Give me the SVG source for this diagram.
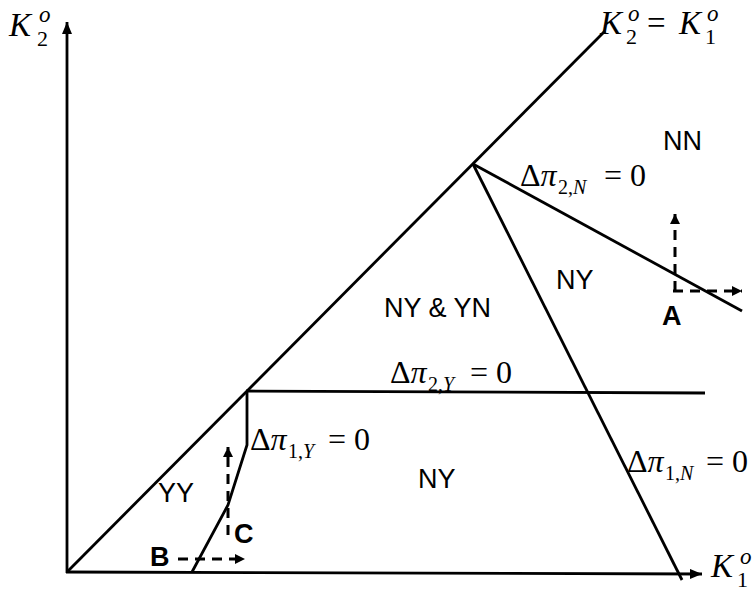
<svg xmlns="http://www.w3.org/2000/svg" width="756" height="592" viewBox="0 0 756 592">
<defs>
<style>
.ln{fill:none;stroke:#000;stroke-width:2.8;stroke-linecap:butt}
.ds{fill:none;stroke:#000;stroke-width:3;stroke-dasharray:10,7}
.lb{font-family:"Liberation Sans",Arial,sans-serif;font-size:27px;fill:#000}
.bd{font-family:"Liberation Sans",Arial,sans-serif;font-size:27px;font-weight:bold;fill:#000}
.m{font-family:"Liberation Serif","Times New Roman",serif;font-size:32px;fill:#000}
.k{font-family:"Liberation Serif","Times New Roman",serif;font-size:33px;font-style:italic;fill:#000}
.i{font-style:italic}
.s{font-size:20px}
.ks{font-size:22px;font-style:normal}
.ko{font-size:23px;font-style:italic}
</style>
<marker id="ah" viewBox="0 0 10 10" refX="10" refY="5" markerWidth="10" markerHeight="10" markerUnits="userSpaceOnUse" orient="auto">
<path d="M0,0 L10,5 L0,10 Z" fill="#000"/>
</marker>
<marker id="ax" viewBox="0 0 12 10" refX="12" refY="5" markerWidth="12" markerHeight="10" markerUnits="userSpaceOnUse" orient="auto">
<path d="M0,0 L12,5 L0,10 Z" fill="#000"/>
</marker>
</defs>

<g id="connectors">
<line id="y-axis" class="ln" x1="67" y1="573" x2="67" y2="22" marker-end="url(#ax)"/>
<line id="x-axis" class="ln" x1="66" y1="572" x2="702" y2="574" marker-end="url(#ax)"/>
<line id="diag" class="ln" x1="67" y1="572" x2="605" y2="31"/>
<line id="d2N" class="ln" x1="473" y1="164" x2="742" y2="311"/>
<line id="d1N" class="ln" x1="473" y1="164" x2="682" y2="580"/>
<line id="d2Y" class="ln" x1="246" y1="391" x2="705" y2="393"/>
<polyline id="d1Y" class="ln" points="247,391 247,445 228,505 192,572"/>
<path id="arrowA-up" class="ds" d="M675,291 L675,214" marker-end="url(#ah)"/>
<path id="arrowA-right" class="ds" d="M673,291 L742,291" marker-end="url(#ah)"/>
<path id="arrowB" class="ds" d="M178,559 L245,559" marker-end="url(#ah)"/>
<path id="arrowC" class="ds" d="M228,535 L228,447" marker-end="url(#ah)"/>
</g>

<g id="axis-labels">
<text class="k" x="9" y="36">K<tspan class="ko" x="39" y="22">o</tspan><tspan class="ks" x="37" y="46">2</tspan></text>
<text class="k" x="600" y="34">K<tspan class="ko" x="628" y="21">o</tspan><tspan class="ks" x="626" y="44">2</tspan><tspan font-style="normal" x="647" y="34">=</tspan><tspan x="679" y="34">K</tspan><tspan class="ko" x="707" y="21">o</tspan><tspan class="ks" x="705" y="44">1</tspan></text>
<text class="k" x="711" y="577">K<tspan class="ko" x="740" y="564">o</tspan><tspan class="ks" x="737" y="587">1</tspan></text>
</g>

<g id="curve-labels">
<text class="m" x="520" y="186">Δ<tspan class="i">π</tspan><tspan class="s" x="558" y="194">2,</tspan><tspan class="s i">N</tspan><tspan x="604" y="186">= 0</tspan></text>
<text class="m" x="390" y="383">Δ<tspan class="i">π</tspan><tspan class="s" x="428" y="391">2,</tspan><tspan class="s i">Y</tspan><tspan x="470" y="383">= 0</tspan></text>
<text class="m" x="250" y="450">Δ<tspan class="i">π</tspan><tspan class="s" x="288" y="458">1,</tspan><tspan class="s i">Y</tspan><tspan x="328" y="450">= 0</tspan></text>
<text class="m" x="627" y="472">Δ<tspan class="i">π</tspan><tspan class="s" x="665" y="480">1,</tspan><tspan class="s i">N</tspan><tspan x="706" y="472">= 0</tspan></text>
</g>

<g id="region-NN"><text class="lb" x="663" y="150">NN</text></g>
<g id="region-NY-upper"><text class="lb" x="556" y="289">NY</text></g>
<g id="region-NYYN"><text class="lb" x="384" y="317">NY &amp; YN</text></g>
<g id="region-NY-lower"><text class="lb" x="418" y="488">NY</text></g>
<g id="region-YY"><text class="lb" x="158" y="502">YY</text></g>
<g id="label-A"><text class="bd" x="662" y="325">A</text></g>
<g id="label-B"><text class="bd" x="150" y="566">B</text></g>
<g id="label-C"><text class="bd" x="234" y="543">C</text></g>
</svg>
